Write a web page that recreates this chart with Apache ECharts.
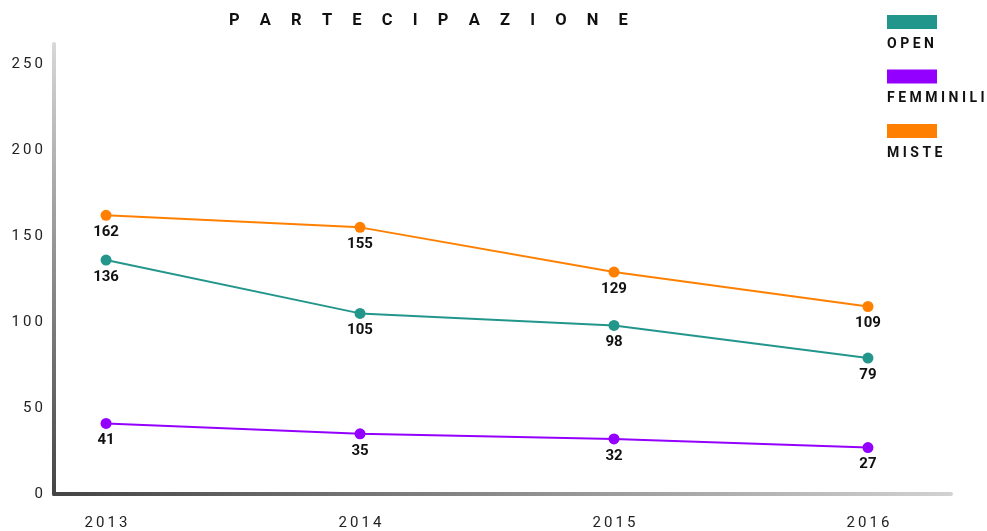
<!DOCTYPE html>
<html>
<head>
<meta charset="utf-8">
<script src="https://cdn.jsdelivr.net/npm/echarts@6/dist/echarts.min.js"></script>
<style>html,body{margin:0;padding:0;background:#fff}#c{width:987px;height:531px}</style>
</head>
<body>
<div id="c"></div>
<script>
var years = [2013, 2014, 2015, 2016];
var open = [136, 105, 98, 79];
var femminili = [41, 35, 32, 27];
var miste = [162, 155, 129, 109];
var yTicks = [0, 50, 100, 150, 200, 250];
var seriesNames = ['OPEN', 'FEMMINILI', 'MISTE'];
var colors = ['#23968c', '#9300ff', '#ff8000'];
var titleText = 'PARTECIPAZIONE';

function spaced(s, sep) { return String(s).split('').join(sep); }
function pairs(vals) { return years.map(function (y, i) { return [y, vals[i]]; }); }

var chart = echarts.init(document.getElementById('c'));
var font = 'Roboto, "Noto Sans", sans-serif';
var rich = { name: { fontFamily: font, fontSize: 14, fontWeight: 'bold', color: '#111', lineHeight: 30 } };
colors.forEach(function (c, i) { rich['bar' + i] = { width: 50, height: 14, lineHeight: 14, backgroundColor: c }; });

var labelCfg = { show: true, position: 'bottom', distance: 4, fontFamily: font, fontSize: 15, fontWeight: 'bold', color: '#111' };
function mkSeries(name, vals, i) {
  return {
    name: name, type: 'line', data: pairs(vals), symbol: 'circle', symbolSize: 11,
    lineStyle: { width: 2, color: colors[i] }, itemStyle: { color: colors[i] },
    label: labelCfg
  };
}

chart.setOption({
  animation: false,
  color: colors,
  title: {
    text: spaced(titleText, '\u2003\u2009'),
    left: 229, top: 12, padding: 0,
    textStyle: { fontFamily: font, fontSize: 16.5, fontWeight: 'bold', color: '#111' }
  },
  legend: {
    orient: 'vertical', left: 882, top: 15, padding: 0,
    icon: 'rect', itemWidth: 0, itemHeight: 44, itemStyle: { opacity: 0 }, itemGap: 10.5, textGap: 0,
    selectedMode: false,
    formatter: function (name) {
      var i = seriesNames.indexOf(name);
      return '{bar' + i + '|}\n{name|' + spaced(name, ' ') + '}';
    },
    textStyle: { fontFamily: font, fontSize: 14, fontWeight: 'bold', color: '#111', overflow: 'none', rich: rich },
    data: seriesNames
  },
  grid: { left: 54, right: 36, top: 44, bottom: 36 },
  xAxis: {
    type: 'value', min: 2012.795, max: 2016.327,
    axisLine: { show: true, lineStyle: { width: 4, color: new echarts.graphic.LinearGradient(0, 0, 1, 0, [{ offset: 0, color: '#444' }, { offset: 1, color: '#d2d2d2' }]) } },
    axisTick: { show: false }, splitLine: { show: false },
    axisLabel: {
      customValues: years, margin: 22, fontFamily: font, fontSize: 15, color: '#222',
      formatter: function (v) { return spaced(v, '\u2009'); }
    }
  },
  yAxis: {
    type: 'value', min: 0, max: 261.6,
    axisLine: { show: true, lineStyle: { width: 4, color: new echarts.graphic.LinearGradient(0, 0, 0, 1, [{ offset: 0, color: '#d8d8d8' }, { offset: 1, color: '#444' }]) } },
    axisTick: { show: false }, splitLine: { show: false },
    axisLabel: {
      customValues: yTicks, margin: 11, fontFamily: font, fontSize: 15, color: '#222',
      formatter: function (v) { return spaced(v, '\u2009'); }
    }
  },
  series: [mkSeries('OPEN', open, 0), mkSeries('FEMMINILI', femminili, 1), mkSeries('MISTE', miste, 2)]
});
</script>
</body>
</html>
